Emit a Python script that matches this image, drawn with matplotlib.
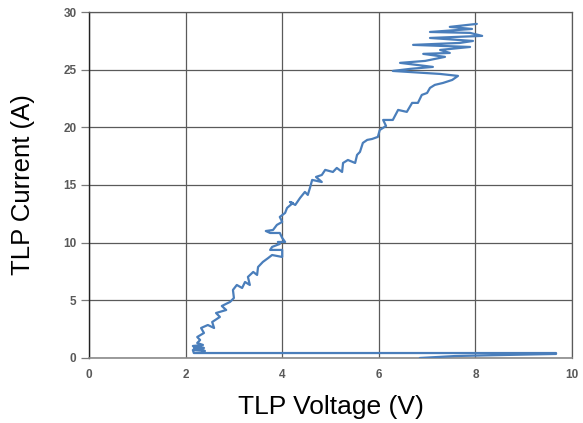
import matplotlib
matplotlib.use("Agg")
import matplotlib.pyplot as plt

# TLP voltage (V) and current (A)
voltage = [6.85, 7.58, 8.61, 9.67, 9.67, 2.17,
           2.15, 2.40, 2.17, 2.38, 2.15, 2.36, 2.24, 2.30, 2.24, 2.38, 2.32, 2.46,
           2.59, 2.55, 2.71, 2.63, 2.84, 2.75, 2.92, 3.00, 2.98, 3.06, 3.17, 3.23,
           3.33, 3.29, 3.40, 3.48, 3.50, 3.60, 3.71, 3.79, 4.00, 4.00, 3.75, 3.79,
           3.95, 3.91, 4.06, 4.00, 3.95, 3.75, 3.66, 3.81, 3.89, 4.00, 3.95, 4.06,
           4.10, 4.22, 4.16, 4.27, 4.37, 4.47, 4.53, 4.58, 4.62, 4.82, 4.70, 4.82,
           4.89, 5.05, 5.13, 5.24, 5.26, 5.36, 5.51, 5.55, 5.61, 5.67, 5.76, 5.86,
           5.98, 6.02, 6.15, 6.09, 6.29, 6.40, 6.58, 6.69, 6.81, 6.89, 7.00, 7.06,
           7.16, 7.33, 7.52, 7.64, 7.27, 6.29, 6.65, 7.12, 6.44, 6.96, 7.37, 6.92,
           7.47, 7.27, 7.89, 6.71, 7.68, 7.95, 7.06, 8.14, 7.89, 7.06, 7.93, 7.47,
           8.03]
current = [0.00, 0.17, 0.26, 0.35, 0.43, 0.43,
           0.69, 0.61, 0.87, 0.87, 1.04, 1.13, 1.30, 1.56, 1.82, 2.17, 2.60, 2.86,
           2.60, 3.12, 3.56, 3.90, 4.16, 4.51, 4.86, 5.20, 5.90, 6.33, 6.07, 6.59,
           6.33, 7.03, 7.46, 7.20, 7.89, 8.33, 8.67, 8.93, 8.76, 9.37, 9.37, 9.63,
           9.89, 10.06, 10.06, 10.41, 10.84, 10.84, 11.01, 11.10, 11.54, 11.80, 12.23, 12.58,
           13.01, 13.44, 13.53, 13.27, 13.88, 14.40, 14.14, 14.83, 15.44, 15.26, 15.70, 15.87,
           16.31, 16.13, 16.48, 16.13, 16.91, 17.17, 16.91, 17.61, 17.87, 18.65, 18.91, 18.99,
           19.17, 19.77, 20.12, 20.64, 20.64, 21.51, 21.34, 22.12, 22.12, 22.81, 22.98, 23.42,
           23.68, 23.85, 24.11, 24.46, 24.63, 24.89, 25.07, 25.24, 25.59, 25.76, 26.11, 26.37,
           26.45, 26.71, 26.97, 27.15, 27.32, 27.49, 27.75, 27.93, 28.19, 28.27, 28.53, 28.71,
           28.97]

x_ticks = [0, 2, 4, 6, 8, 10]
y_ticks = [0, 5, 10, 15, 20, 25, 30]

plt.rcParams['font.family'] = ['Liberation Sans', 'DejaVu Sans']

fig = plt.figure(figsize=(5.83, 4.23), dpi=100)
ax = fig.add_axes([0.1527, 0.1537, 0.9811 - 0.1527, 0.9716 - 0.1537])

ax.plot(voltage, current, color='#4a7ebb', lw=1.6, solid_joinstyle='round',
        solid_capstyle='round', zorder=3)

ax.set_xlim(0, 10)
ax.set_ylim(0, 30)
ax.set_xticks(x_ticks)
ax.set_yticks(y_ticks)
ax.set_xticklabels([str(v) for v in x_ticks])
ax.set_yticklabels([str(v) for v in y_ticks])
ax.grid(True, color='#5a5a5a', lw=0.9)
ax.set_axisbelow(True)

for side in ['top', 'right']:
    ax.spines[side].set_color('#5a5a5a')
    ax.spines[side].set_linewidth(0.9)
ax.spines['left'].set_color('#222222')
ax.spines['left'].set_linewidth(1.0)
ax.spines['bottom'].set_color('#8a8a8a')
ax.spines['bottom'].set_linewidth(1.2)

ax.tick_params(axis='y', length=6, width=0.9, color='#7a7a7a', pad=3,
               labelsize=8.5, labelcolor='#595959')
ax.tick_params(axis='x', length=0, pad=8, labelsize=8.5, labelcolor='#595959')
for lab in ax.get_xticklabels() + ax.get_yticklabels():
    lab.set_fontweight('bold')

ax.set_xlabel('TLP Voltage (V)', fontsize=19, labelpad=10, color='black')
ax.set_ylabel('TLP Current (A)', fontsize=18.5, color='black')
ax.yaxis.set_label_coords(-0.112, 0.5)

fig.savefig('out.png', dpi=100)
